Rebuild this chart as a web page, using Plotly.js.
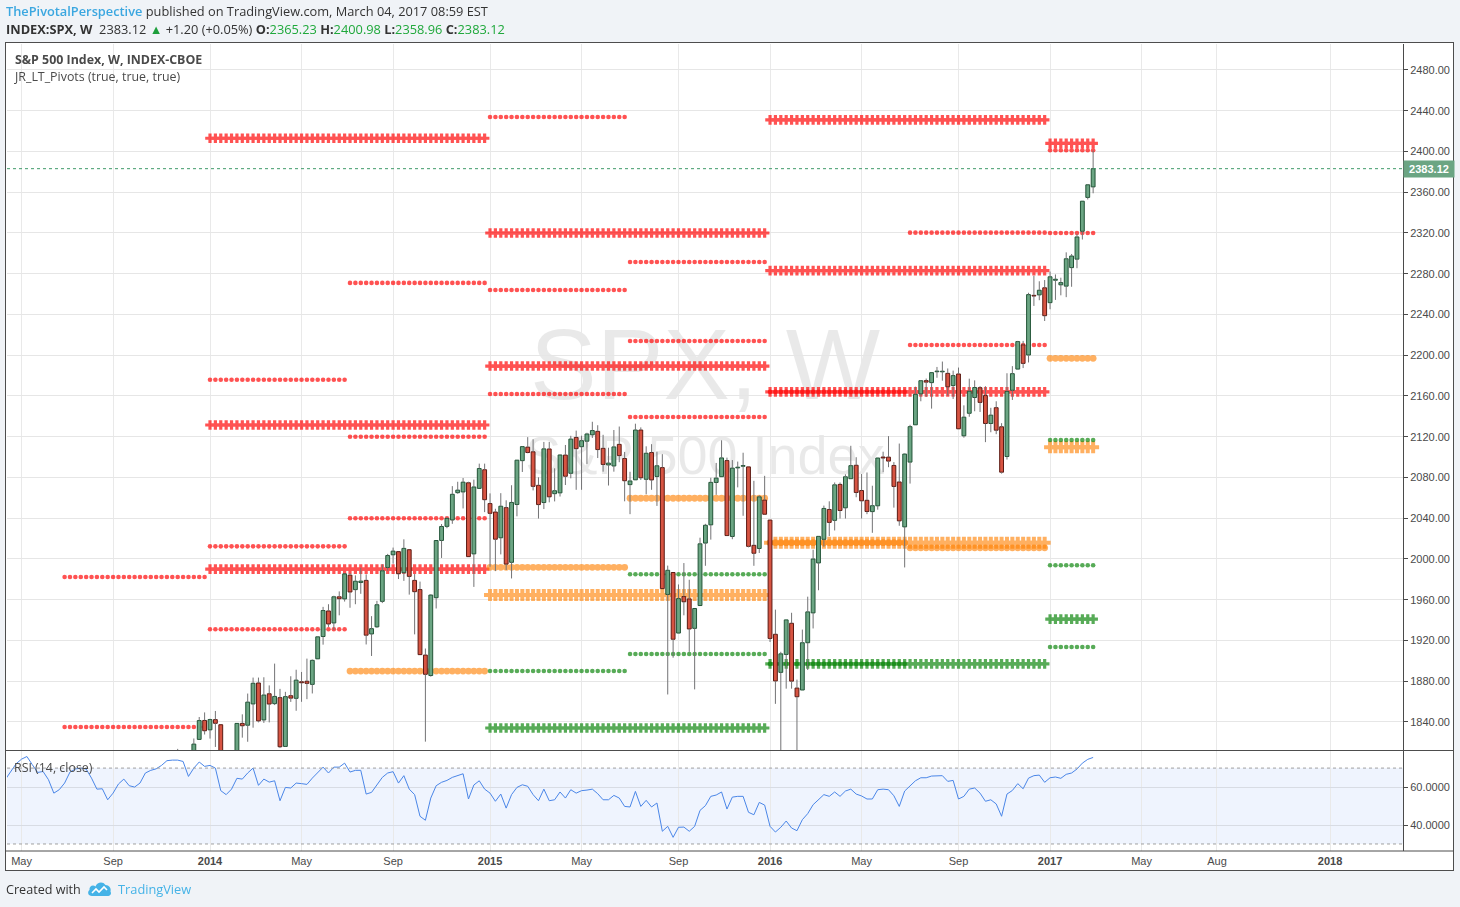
<!DOCTYPE html>
<html>
<head>
<meta charset="utf-8">
<title>SPX, W</title>
<script src="https://cdn.plot.ly/plotly-3.0.1.min.js"></script>
<style>
 html,body{margin:0;padding:0;}
 body{width:1460px;height:907px;background:#f0f3f7;position:relative;overflow:hidden;font-family:"Open Sans","Noto Sans",sans-serif;color:#333;}
 #frame{position:absolute;left:5px;top:42px;width:1447px;height:827px;background:#fff;border:1px solid #4d4d4d;}
 .wm{position:absolute;left:0;width:1410px;text-align:center;font-family:"Liberation Sans",Arial,sans-serif;color:rgba(0,0,0,0.085);white-space:nowrap;}
 #chart{position:absolute;left:0;top:0;width:1460px;height:907px;}
 .txt{position:absolute;white-space:nowrap;}
 .g{color:#1fa83b;}
</style>
</head>
<body>
<div id="frame"></div>
<div class="wm" style="top:314px;font-size:100px;line-height:100px;">SPX, W</div>
<div class="wm" style="top:428px;font-size:54px;line-height:54px;">S&amp;P 500 Index</div>
<div id="chart"></div>
<div class="txt" style="left:6px;top:3px;font-size:12.8px;line-height:17px;"><span style="color:#3ba7e0;font-weight:600;">ThePivotalPerspective</span> published on TradingView.com, March 04, 2017 08:59 EST</div>
<div class="txt" style="left:6px;top:21px;font-size:12.8px;line-height:17px;"><b>INDEX:SPX, W</b>&nbsp; 2383.12 <span style="color:#1e9f3c;">&#9650;</span> +1.20 (+0.05%) <b>O:</b><span class="g">2365.23</span> <b>H:</b><span class="g">2400.98</span> <b>L:</b><span class="g">2358.96</span> <b>C:</b><span class="g">2383.12</span></div>
<div class="txt" style="left:15px;top:52px;font-size:12.4px;line-height:16px;font-weight:700;color:#4a4a4a;">S&amp;P 500 Index, W, INDEX-CBOE</div>
<div class="txt" style="left:15px;top:69px;font-size:12.4px;line-height:16px;color:#4a4a4a;">JR_LT_Pivots (true, true, true)</div>
<div class="txt" style="left:14px;top:760px;font-size:12.4px;line-height:16px;color:#4a4a4a;">RSI (14, close)</div>
<div class="txt" style="left:6px;top:881px;font-size:12.6px;line-height:17px;color:#333;">Created with</div>
<svg style="position:absolute;left:87px;top:880px;" width="25" height="17" viewBox="0 0 25 17">
 <path d="M5 16 C1 16 0 12 2.5 10 C2 6 6 4.5 8.5 6.5 C10 2 16 1 18.5 5 C22 5 24.5 8 23.5 11.5 C25 14 23 16 20.5 16 Z" fill="#45b3e7"/>
 <polyline points="5,13 9,9 12,12 17,7 20,10" fill="none" stroke="#ffffff" stroke-width="1.6"/>
</svg>
<div class="txt" style="left:118px;top:881px;font-size:12.8px;line-height:17px;color:#45b3e7;">TradingView</div>
<script>
// ---------------- DATA ----------------
// Weekly SPX candles, one per week starting at candleStart
const candleStart = '2013-11-04';
const opens = [
 1763.4,1769.6,1798.8,1806.3,1806.6,1806.2,1777.0,1822.9,1841.5,
 1832.3,1842.3,1837.3,1791.0,1782.7,1797.0,1838.6,1836.8,1857.7,1878.3,
 1842.0,1867.7,1858.0,1863.9,1816.0,1865.8,1863.2,1879.5,1880.0,1876.9,
 1902.0,1923.9,1949.0,1937.2,1962.9,1960.8,1984.2,1969.9,1976.9,1979.0,
 1926.4,1933.4,1958.4,1991.7,2004.1,2007.2,1986.5,2009.1,1979.0,1970.0,
 1905.7,1885.6,1962.0,2018.2,2032.0,2038.3,2065.1,2065.8,2074.8,2005.0,
 2069.3,2087.6,
 2054.4,2046.1,2020.8,2050.4,1996.7,2053.5,2096.5,2109.8,2105.2,2072.3,
 2055.4,2108.0,2064.1,2064.9,2102.0,2084.1,2119.3,2110.2,2115.6,2121.9,
 2125.3,2108.6,2092.3,2091.3,2112.5,2098.6,2073.0,2077.7,2126.6,2078.2,
 2104.5,2081.0,2089.7,1965.2,1986.7,1927.3,1963.1,1960.8,1931.9,1954.3,
 2015.6,2033.5,2075.1,2080.8,2096.6,2022.1,2089.4,2091.0,2090.4,2013.4,
 2010.3,2057.8,
 2038.2,1926.1,1888.7,1906.3,1936.9,1873.3,1871.4,1917.8,1947.1,1996.1,
 2019.3,2048.6,2037.9,2073.2,2050.2,2078.8,2092.0,2067.2,2057.6,2046.5,
 2052.2,2100.1,2100.0,2091.8,2075.6,2031.5,2095.1,2131.7,2162.0,2175.1,
 2173.1,2183.8,2183.7,2182.2,2170.2,2181.6,2120.9,2143.0,2158.5,2168.1,
 2160.4,2133.0,2148.5,2129.8,2100.6,2165.6,2186.4,2210.2,2200.2,2258.8,
 2259.2,2266.2,
 2251.6,2273.6,2269.1,2267.8,2286.0,2294.3,2321.7,2354.9,2365.23
];
const highs = [
 1774.5,1798.2,1806.8,1813.6,1810.0,1811.5,1823.8,1844.9,1849.4,
 1843.2,1850.8,1837.3,1798.0,1798.0,1838.6,1847.5,1867.9,1883.6,1883.6,
 1883.9,1875.9,1897.3,1872.5,1869.6,1884.9,1891.3,1889.1,1902.2,1901.3,
 1924.0,1953.0,1955.6,1963.9,1968.2,1985.6,1986.0,1983.9,1991.4,1984.9,
 1943.9,1958.9,1994.8,2005.0,2011.2,2007.2,2019.3,2009.1,1985.2,1977.8,
 1912.1,1965.3,2018.2,2034.3,2041.3,2071.5,2075.8,2079.5,2075.8,2077.9,
 2093.6,2093.6,
 2064.4,2049.3,2064.6,2057.6,2072.4,2097.0,2110.6,2119.6,2117.5,2080.2,
 2114.9,2114.9,2089.0,2102.6,2111.9,2120.9,2126.0,2121.0,2123.9,2134.7,
 2131.3,2121.9,2109.2,2126.6,2130.0,2105.1,2085.6,2132.8,2129.2,2110.6,
 2112.7,2105.4,2102.9,1993.5,1986.7,1975.0,1996.0,1979.6,1951.4,2020.9,
 2034.5,2079.7,2094.3,2116.5,2099.5,2097.1,2095.6,2104.3,2090.4,2076.7,
 2062.5,2081.6,
 2038.2,1950.3,1908.9,1940.2,1947.2,1881.6,1930.7,1963.0,2009.1,2022.4,
 2052.4,2056.6,2075.1,2075.1,2083.1,2111.1,2099.9,2083.4,2084.9,2071.9,
 2099.3,2105.3,2120.6,2095.1,2113.3,2103.5,2131.7,2169.1,2175.6,2177.1,
 2183.0,2188.5,2193.8,2187.0,2184.9,2187.9,2150.8,2177.0,2175.3,2169.6,
 2169.6,2148.4,2154.8,2133.3,2182.3,2189.3,2214.1,2214.1,2261.3,2278.0,
 2272.6,2273.8,
 2282.1,2279.3,2276.1,2301.0,2299.4,2319.2,2351.2,2368.0,2400.98
];
const lows = [
 1746.2,1760.6,1777.2,1800.1,1779.1,1772.3,1767.9,1822.9,1827.7,
 1823.7,1815.5,1790.0,1770.5,1737.9,1791.8,1824.6,1820.6,1834.4,1839.6,
 1839.1,1839.6,1856.6,1814.4,1815.7,1859.7,1851.0,1859.8,1862.4,1868.0,
 1902.0,1915.9,1933.3,1930.1,1944.7,1958.2,1952.1,1955.6,1965.8,1916.1,
 1904.8,1932.4,1956.7,1988.4,1995.4,1980.3,1978.5,1965.0,1926.0,1906.0,
 1820.7,1884.5,1951.4,2001.0,2030.2,2034.5,2064.0,2049.6,2002.3,1972.6,
 2069.3,2046.0,
 1992.4,1988.1,2004.5,1989.2,1980.9,2041.9,2085.4,2103.8,2067.3,2039.7,
 2049.0,2055.6,2056.5,2061.3,2072.6,2079.2,2067.9,2067.9,2093.3,2118.8,
 2099.1,2085.7,2072.1,2085.7,2095.0,2056.6,2044.0,2077.7,2077.6,2063.5,
 2067.9,2052.1,1970.9,1867.0,1903.1,1927.3,1944.7,1908.8,1872.0,1954.3,
 1993.3,2019.0,2063.0,2080.8,2022.5,2019.4,2070.3,2042.4,2011.4,1993.3,
 2005.9,2043.6,
 1918.5,1857.8,1812.3,1872.7,1872.7,1810.1,1871.4,1891.0,1931.8,1969.3,
 2012.0,2022.5,2028.0,2039.7,2039.7,2078.5,2060.6,2039.7,2044.0,2025.7,
 2048.4,2085.1,2090.1,2050.4,2032.6,1991.7,2074.0,2131.7,2154.8,2159.1,
 2147.6,2177.9,2175.0,2160.4,2157.1,2127.8,2119.1,2139.6,2145.0,2144.3,
 2114.7,2124.4,2122.5,2083.8,2097.6,2156.1,2186.4,2187.4,2192.9,2248.4,
 2254.0,2233.6,
 2245.1,2254.3,2258.8,2257.0,2267.2,2285.4,2313.6,2352.9,2358.96
];
const closes = [
 1770.6,1798.2,1804.8,1805.8,1805.1,1775.3,1818.3,1841.4,1831.4,
 1842.4,1838.7,1790.3,1782.6,1797.0,1838.6,1836.3,1859.5,1878.0,1841.1,
 1866.5,1857.6,1865.1,1815.7,1864.9,1863.4,1881.1,1878.5,1877.9,1900.5,
 1923.6,1949.4,1936.2,1962.9,1961.0,1985.4,1967.6,1978.2,1978.3,1925.2,
 1931.6,1955.1,1988.4,2003.4,2007.7,1985.5,2010.4,1982.9,1967.9,1906.1,
 1886.8,1964.6,2018.1,2031.9,2039.8,2063.5,2067.6,2075.4,2002.3,2070.7,
 2088.8,2058.2,
 2044.8,2019.4,2051.8,1995.0,2055.5,2097.0,2110.3,2104.5,2071.3,2053.4,
 2108.1,2061.0,2067.0,2102.1,2081.2,2117.7,2108.3,2116.1,2122.7,2126.1,
 2107.4,2092.8,2094.1,2110.0,2101.5,2076.8,2076.6,2126.6,2079.7,2103.8,
 2077.6,2091.5,1970.9,1988.9,1921.2,1961.1,1958.0,1931.3,1951.4,2014.9,
 2033.1,2075.2,2079.4,2099.2,2023.0,2089.2,2090.1,2091.7,2012.4,2005.6,
 2061.0,2043.9,
 1922.0,1880.3,1906.9,1940.2,1880.1,1864.8,1917.8,1948.1,2000.0,2022.2,
 2049.6,2035.9,2072.8,2047.6,2080.7,2091.6,2065.3,2057.1,2046.6,2052.3,
 2099.1,2099.1,2096.1,2071.2,2037.4,2103.0,2129.9,2161.7,2175.0,2173.6,
 2182.9,2184.1,2183.9,2169.0,2180.0,2127.8,2139.2,2164.7,2168.3,2153.7,
 2133.0,2141.2,2126.4,2085.2,2164.5,2181.9,2213.4,2192.0,2259.5,2258.1,
 2263.8,2238.8,
 2277.0,2274.6,2271.3,2294.7,2297.4,2316.1,2351.2,2367.3,2383.12
];

// RSI(14, close), one value per week starting at rsiStart
const rsiStart = '2013-04-15';
const rsiValues = [
 64,68.2,72.3,74.7,76.1,71.8,67.7,68.2,63.9,56.8,
 58.6,62.1,67.9,69.5,70,69.5,64.7,58.9,59.1,53.3,
 56.8,61.6,64.2,60.7,60,62.1,67.4,68.8,69.6,71.4,
 73.9,74.2,74.2,73.5,65.6,70,73.2,70.9,71.4,70,
 58.1,56,58.9,64.6,64.2,67.4,70,60.9,64.2,62.6,
 63.3,52.8,59.8,59.5,62.1,61.8,61.4,64.7,67.9,70.5,
 67.4,70.5,70.5,72.6,67.9,68.8,68.8,56.3,57.2,61.2,
 65.1,67.4,68.1,62.1,66,58.9,56,44.6,42.5,54.2,
 60.7,62.5,63.5,65.1,66,67,53.7,61.1,63.3,58.9,
 56.8,52.5,56.3,48.9,56,59.8,61.2,60.4,56,52.8,
 58.9,52.8,53.3,57.4,54.2,58.6,56.8,58.1,58.4,58.9,
 56.5,53.3,53.3,55.6,54.2,49.8,49.5,57.7,49.8,53,
 49.5,51.6,36.7,39.3,33.5,38.8,38.9,36.7,39.3,47.7,
 50.2,55.1,55.8,57.4,48.4,54.7,55.1,55.1,46.7,45.4,
 51.9,50.5,39.3,36.3,38.8,42.1,38.4,37,42.8,46,
 50.7,53.3,56,55.1,57.4,55.1,57.9,58.9,56.3,55.3,
 53.7,53.7,58.6,58.9,58.6,55.4,49.8,57.9,60.4,63.3,
 64.9,64.9,65.8,66,66,63,63.5,53.7,55.1,58.9,
 59.5,56.8,52.5,53.3,51.1,44.6,56.3,58.2,61.8,59.1,
 64.7,66,66.3,62.5,64.9,65.3,64.6,66.7,67.4,69.5,
 72.6,74.6,75.6
];
const rsiBand = [30, 70];
const rsiTicks = [40, 60];
const rsiTickLabels = ['40.0000', '60.0000'];

// JR_LT_Pivots: level, first week, last week, style
const pivotLevels = [
 1982.3, 1835.1,
 2413.0, 2131.5, 1990.0,
 2176.0, 2012.4, 1931.0,
 2271.0, 2120.0, 2040.0, 1890.0,
 2320.0, 2189.4, 1964.6, 1834.1,
 2433.9, 2264.0, 2162.0, 1991.8, 1890.0,
 2291.5, 2214.0, 2139.4, 2059.6, 1985.0, 1906.7,
 2431.0, 2283.0, 2164.0, 2016.0, 1897.0,
 2164.0, 2016.0, 1897.0,
 2320.3, 2210.0, 2011.0,
 2408.0, 2109.6, 1941.0,
 2401.2, 2320.0, 2197.0, 2116.8, 1993.8, 1913.6
];
const pivotFrom = [
 '2013-07-01','2013-07-01',
 '2014-01-06','2014-01-06','2014-01-06',
 '2014-01-06','2014-01-06','2014-01-06',
 '2014-07-07','2014-07-07','2014-07-07','2014-07-07',
 '2015-01-05','2015-01-05','2015-01-05','2015-01-05',
 '2015-01-05','2015-01-05','2015-01-05','2015-01-05','2015-01-05',
 '2015-07-06','2015-07-06','2015-07-06','2015-07-06','2015-07-06','2015-07-06',
 '2016-01-04','2016-01-04','2016-01-04','2016-01-04','2016-01-04',
 '2016-01-04','2016-01-04','2016-01-04',
 '2016-07-04','2016-07-04','2016-07-04',
 '2017-01-02','2017-01-02','2017-01-02',
 '2017-01-02','2017-01-02','2017-01-02','2017-01-02','2017-01-02','2017-01-02'
];
const pivotTo = [
 '2013-12-30','2013-12-30',
 '2014-12-29','2014-12-29','2014-12-29',
 '2014-06-30','2014-06-30','2014-06-30',
 '2014-12-29','2014-12-29','2014-12-29','2014-12-29',
 '2015-12-28','2015-12-28','2015-12-28','2015-12-28',
 '2015-06-29','2015-06-29','2015-06-29','2015-06-29','2015-06-29',
 '2015-12-28','2015-12-28','2015-12-28','2015-12-28','2015-12-28','2015-12-28',
 '2016-12-26','2016-12-26','2016-12-26','2016-12-26','2016-12-26',
 '2016-06-27','2016-06-27','2016-06-27',
 '2016-12-26','2016-12-26','2016-12-26',
 '2017-02-27','2017-02-27','2017-02-27',
 '2017-02-27','2017-02-27','2017-02-27','2017-02-27','2017-02-27','2017-02-27'
];
const pivotStyle = [
 'redDot','redDot',
 'redPlus','redPlus','redPlus',
 'redDot','redDot','redDot',
 'redDot','redDot','redDot','orangeDot',
 'redPlus','redPlus','orangePlus','greenPlus',
 'redDot','redDot','redDot','orangeDot','greenDot',
 'redDot','redDot','redDot','orangeDot','greenDot','greenDot',
 'redPlus','redPlus','redPlus','orangePlus','greenPlus',
 'redDot','orangeDot','greenDot',
 'redDot','redDot','orangeDot',
 'redPlus','orangePlus','greenPlus',
 'redDot','redDot','orangeDot','greenDot','greenDot','greenDot'
];

// Axis labels
const priceTicks = [1840,1880,1920,1960,2000,2040,2080,2120,2160,2200,2240,2280,2320,2360,2400,2440,2480];
const tickDates = ['2013-05-06','2013-09-02','2014-01-06','2014-05-05','2014-09-01','2015-01-05','2015-05-04','2015-09-07','2016-01-04','2016-05-02','2016-09-05','2017-01-02','2017-05-01','2017-08-07','2018-01-01'];
const tickLabels = ['May','Sep','2014','May','Sep','2015','May','Sep','2016','May','Sep','2017','May','Aug','2018'];

// ---------------- BUILD ----------------
const DAY = 864e5;
function iso(t){ return new Date(t).toISOString().slice(0,10); }
function weekly(startISO, n){ const t0 = Date.parse(startISO+'T00:00:00Z'); const out=[]; for(let i=0;i<n;i++) out.push(iso(t0+i*7*DAY)); return out; }
function weeksBetween(a,b){ const out=[]; let t=Date.parse(a+'T00:00:00Z'); const e=Date.parse(b+'T00:00:00Z'); while(t<=e){ out.push(iso(t)); t+=7*DAY; } return out; }

const candleDates = weekly(candleStart, closes.length);
const rsiDates = weekly(rsiStart, rsiValues.length);
const xRange = ['2013-04-17 03:00:00','2018-04-05 19:00:00'];
const yRange = [1812.5, 2505.5];

const styleDefs = {
 redPlus:   {symbol:'cross',  size:8,   color:'#ff0000', opacity:0.68},
 redDot:    {symbol:'circle', size:4.6, color:'#ff0000', opacity:0.68},
 orangePlus:{symbol:'cross',  size:10,  color:'#ff8000', opacity:0.62},
 orangeDot: {symbol:'circle', size:6.8, color:'#ff8000', opacity:0.62},
 greenPlus: {symbol:'cross',  size:8,   color:'#008000', opacity:0.66},
 greenDot:  {symbol:'circle', size:4.6, color:'#008000', opacity:0.66}
};
const traces = [];
['redPlus','orangePlus','greenPlus','redDot','orangeDot','greenDot'].forEach(function(st){
  const xs=[], ys=[];
  pivotLevels.forEach(function(lv,i){
    if(pivotStyle[i]!==st) return;
    weeksBetween(pivotFrom[i], pivotTo[i]).forEach(function(d){ xs.push(d); ys.push(lv); });
  });
  const s = styleDefs[st];
  traces.push({type:'scatter', mode:'markers', x:xs, y:ys, xaxis:'x', yaxis:'y', opacity:s.opacity,
    marker:{symbol:s.symbol, size:s.size, color:s.color, line:{width:0}}, hoverinfo:'skip', showlegend:false});
});

// wicks (above and below body)
const wx=[], wy=[];
candleDates.forEach(function(d,i){
  const top=Math.max(opens[i],closes[i]), bot=Math.min(opens[i],closes[i]);
  wx.push(d,d,null,d,d,null); wy.push(highs[i],top,null,bot,lows[i],null);
});
traces.push({type:'scatter', mode:'lines', x:wx, y:wy, xaxis:'x3', yaxis:'y3', line:{color:'#737375', width:1}, hoverinfo:'skip', showlegend:false, connectgaps:false});

function bodies(isUp){
  const x=[], b=[], h=[];
  candleDates.forEach(function(d,i){
    const up = closes[i]>=opens[i];
    if(up!==isUp) return;
    x.push(d); b.push(Math.min(opens[i],closes[i])); h.push(Math.max(Math.abs(closes[i]-opens[i]),0.6));
  });
  return {type:'bar', x:x, y:h, base:b, xaxis:'x3', yaxis:'y3', width:4.3e8,
    marker:{color: isUp?'#6ba583':'#d75442', line:{color: isUp?'#225437':'#5b1a13', width:1}},
    hoverinfo:'skip', showlegend:false};
}
traces.push(bodies(true));
traces.push(bodies(false));

traces.push({type:'scatter', mode:'lines', x:rsiDates, y:rsiValues, xaxis:'x2', yaxis:'y2', line:{color:'#4a86e8', width:1}, hoverinfo:'skip', showlegend:false});

const H=907, plotTop=44, plotBot=851, mainBot=750;
const ph = plotBot-plotTop;
const mainDomain = [(plotBot-mainBot)/ph, 1];
const rsiDomain = [0, (plotBot-751)/ph];
const lastClose = closes[closes.length-1];
const pxL = 7, pxR = 1403, pw = pxR-pxL;
const fx = function(px){ return (px-pxL)/pw; };
const sepY = (plotBot-750.5)/ph;

const axisFont = {family:'"Liberation Sans", Arial, sans-serif', size:11, color:'#4a4a4a'};
const layout = {
  width:1460, height:H, autosize:false,
  margin:{l:pxL, r:1460-pxR, t:plotTop, b:H-plotBot, pad:0},
  paper_bgcolor:'rgba(0,0,0,0)', plot_bgcolor:'rgba(0,0,0,0)',
  showlegend:false, barmode:'overlay', hovermode:false,
  font:axisFont,
  xaxis:{type:'date', range:xRange, domain:[0,1], anchor:'y', tickvals:tickDates, ticktext:tickLabels, showticklabels:false, ticks:'', showgrid:true, gridcolor:'#e9e9e9', gridwidth:1, zeroline:false, showline:false, fixedrange:true},
  yaxis:{domain:mainDomain, anchor:'x', side:'right', range:yRange, tickvals:priceTicks, ticktext:priceTicks.map(function(v){return v.toFixed(2);}), ticks:'outside', ticklen:4, tickcolor:'#4a4a4a', showline:true, linecolor:'#4a4a4a', linewidth:1, showgrid:true, gridcolor:'#e6e6e6', zeroline:false, tickfont:axisFont, fixedrange:true},
  xaxis2:{type:'date', range:xRange, domain:[0,1], anchor:'y2', tickvals:tickDates, ticktext:tickLabels.map(function(t){return /^\d{4}$/.test(t)?'<b>'+t+'</b>':t;}), ticks:'', ticklabelstandoff:2, showgrid:true, gridcolor:'#e9e9e9', zeroline:false, showline:false, tickfont:axisFont, fixedrange:true},
  yaxis2:{domain:rsiDomain, anchor:'x2', side:'right', range:[26.3,79], tickvals:rsiTicks, ticktext:rsiTickLabels, ticks:'outside', ticklen:4, tickcolor:'#4a4a4a', showline:true, linecolor:'#4a4a4a', linewidth:1, showgrid:true, gridcolor:'#d8dce4', zeroline:false, tickfont:axisFont, fixedrange:true},
  xaxis3:{type:'date', range:xRange, overlaying:'x', anchor:'y3', visible:false, fixedrange:true},
  yaxis3:{range:yRange, overlaying:'y', anchor:'x3', visible:false, fixedrange:true},
  shapes:[
    {type:'rect', xref:'paper', yref:'y2', x0:0, x1:1, y0:rsiBand[0], y1:rsiBand[1], fillcolor:'rgba(33,100,243,0.07)', line:{width:0}, layer:'below'},
    {type:'line', xref:'paper', yref:'y2', x0:0, x1:1, y0:rsiBand[1], y1:rsiBand[1], line:{color:'#a0a0a0', width:1, dash:'dot'}},
    {type:'line', xref:'paper', yref:'y2', x0:0, x1:1, y0:rsiBand[0], y1:rsiBand[0], line:{color:'#a0a0a0', width:1, dash:'dot'}},
    {type:'line', xref:'paper', yref:'y', x0:0, x1:1, y0:lastClose, y1:lastClose, line:{color:'#3f9a6a', width:1, dash:'dot'}},
    {type:'line', xref:'paper', yref:'paper', x0:fx(5), x1:fx(1453), y0:sepY, y1:sepY, line:{color:'#4d4d4d', width:1}},
    {type:'line', xref:'paper', yref:'paper', x0:fx(5), x1:fx(1453), y0:0, y1:0, line:{color:'#4d4d4d', width:1}}
  ],
  annotations:[
    {xref:'paper', x:1, xanchor:'left', yref:'y', y:lastClose, yanchor:'middle', text:'<b>'+lastClose.toFixed(2)+'</b>', showarrow:false, bgcolor:'#6ba583', font:{family:'"Liberation Sans", Arial, sans-serif', size:11, color:'#ffffff'}, width:47, height:13, borderpad:1.5, align:'center'}
  ]
};

Plotly.newPlot('chart', traces, layout, {staticPlot:true, displayModeBar:false});
</script>
</body>
</html>
